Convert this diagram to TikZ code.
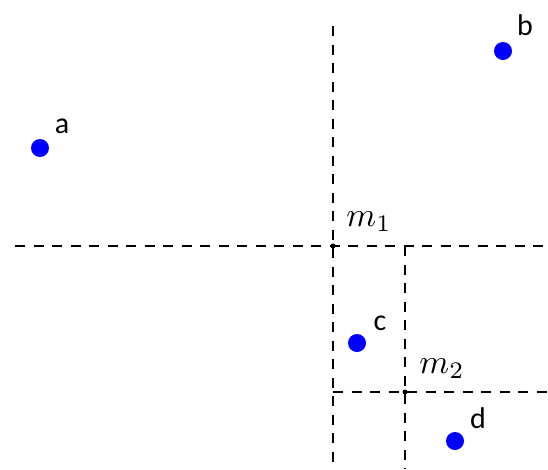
\documentclass[tikz,border=0pt]{standalone}
\usepackage{fontspec}
\usepackage{graphicx}
\newfontfamily\lblfont{Carlito}
\begin{document}
\begin{tikzpicture}[x=1pt,y=-1pt,
  pt/.style={circle,fill=blue,inner sep=0pt,minimum size=18pt},
  mid/.style={circle,fill=black,inner sep=0pt,minimum size=5pt},
  lbl/.style={anchor=base,inner sep=0pt,font=\lblfont\fontsize{30}{36}\selectfont},
  mlbl/.style={anchor=base,inner sep=0pt},
  split/.style={dashed,dash pattern=on 10pt off 8.5pt,line width=1.6pt}]
\useasboundingbox (0,0) rectangle (548,469);
% points
\node[pt] (a) at (40,148) {};
\node[pt] (b) at (503,51) {};
\node[pt] (c) at (357,343) {};
\node[pt] (d) at (455,441) {};
\node[lbl] (la) at (62,133) {a};
\node[lbl] (lb) at (525,35) {b};
\node[lbl] (lc) at (380,330) {c};
\node[lbl] (ld) at (478,428) {d};
% split lines
\coordinate (v1t) at (333,26);
\coordinate (v1b) at (333,469);
\coordinate (h1l) at (15,246);
\coordinate (h1r) at (548,246);
\coordinate (v2t) at (405,246);
\coordinate (v2b) at (405,469);
\coordinate (h2l) at (333,392);
\coordinate (h2r) at (548,392);
\draw[split] (v1t) -- (v1b);
\draw[split] (h1l) -- (h1r);
\draw[split] (v2t) -- (v2b);
\draw[split] (h2l) -- (h2r);
\node[mid] (m1) at (333,246) {};
\node[mid] (m2) at (405,392) {};
\node[mlbl] (lm1) at (369,226) {\scalebox{3.4}{$m_1$}};
\node[mlbl] (lm2) at (442,373) {\scalebox{3.4}{$m_2$}};
\end{tikzpicture}
\end{document}
